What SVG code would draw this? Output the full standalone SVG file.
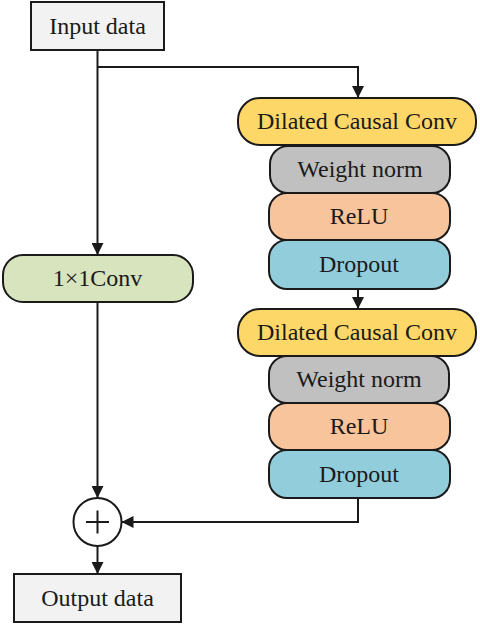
<svg xmlns="http://www.w3.org/2000/svg" width="480" height="625" viewBox="0 0 480 625">
<style>
text{font-family:"Liberation Serif","Times New Roman",serif;font-size:24px;fill:#1a1a1a;text-anchor:middle}
.b{stroke:#1a1a1a;stroke-width:2}
.c{fill:none;stroke:#1a1a1a;stroke-width:2}
</style>
<defs>
<marker id="ar" viewBox="0 0 12 12" refX="12" refY="6" markerWidth="12" markerHeight="12" markerUnits="userSpaceOnUse" orient="auto">
<path d="M0,0 L12,6 L0,12 z" fill="#1a1a1a"/>
</marker>
</defs>
<rect width="480" height="625" fill="#fff"/>
<g id="input"><rect class="b" x="31" y="2" width="133" height="48" fill="#f2f2f2"/><text x="97.5" y="34">Input data</text></g>
<g id="dcc1"><rect class="b" x="238" y="98" width="238" height="47" rx="22" fill="#fdd868"/><text x="357" y="129">Dilated Causal Conv</text></g>
<g id="wn1"><rect class="b" x="270" y="146" width="180" height="47" rx="18" fill="#c0c0c0"/><text x="360" y="177">Weight norm</text></g>
<g id="relu1"><rect class="b" x="269" y="193" width="181" height="47" rx="18" fill="#f8c49c"/><text x="359" y="224">ReLU</text></g>
<g id="drop1"><rect class="b" x="269" y="240" width="181" height="49" rx="18" fill="#92cddc"/><text x="359" y="272">Dropout</text></g>
<g id="dcc2"><rect class="b" x="238" y="309" width="238" height="47" rx="22" fill="#fdd868"/><text x="357" y="340">Dilated Causal Conv</text></g>
<g id="wn2"><rect class="b" x="269" y="356" width="180" height="47" rx="18" fill="#c0c0c0"/><text x="359" y="387">Weight norm</text></g>
<g id="relu2"><rect class="b" x="269" y="403" width="181" height="47" rx="18" fill="#f8c49c"/><text x="359" y="434">ReLU</text></g>
<g id="drop2"><rect class="b" x="269" y="450" width="181" height="48" rx="18" fill="#92cddc"/><text x="359" y="482">Dropout</text></g>
<g id="conv1x1"><rect class="b" x="3" y="255" width="190" height="47" rx="20" fill="#d7e4bd"/><text x="97.5" y="286">1×1Conv</text></g>
<g id="sum"><circle class="b" cx="97.5" cy="522" r="24" fill="#fff"/><path class="c" d="M86,522 H109 M97.5,510.5 V533.5" stroke-width="1.5"/></g>
<g id="output"><rect class="b" x="14" y="574" width="167" height="48" fill="#f2f2f2"/><text x="97.5" y="606">Output data</text></g>
<g id="connectors">
<path class="c" d="M97.5,50 V255" marker-end="url(#ar)"/>
<path class="c" d="M97.5,67 H358 V98" marker-end="url(#ar)"/>
<path class="c" d="M358,289 V309" marker-end="url(#ar)"/>
<path class="c" d="M97.5,302 V498" marker-end="url(#ar)"/>
<path class="c" d="M358,498 V522 H121.5" marker-end="url(#ar)"/>
<path class="c" d="M97.5,546 V574" marker-end="url(#ar)"/>
</g>
</svg>
